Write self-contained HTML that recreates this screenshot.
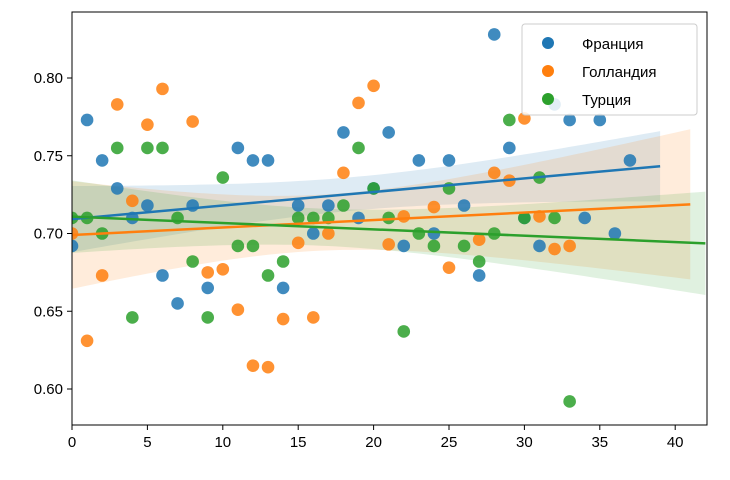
<!DOCTYPE html>
<html><head><meta charset="utf-8"><style>
body{margin:0;background:#fff;width:730px;height:475px;overflow:hidden}
svg text{font-family:"Liberation Sans","DejaVu Sans",sans-serif;font-size:15px;fill:#000}
</style></head><body>
<svg id="chart" width="730" height="475"></svg>
<script>
const seriesNames=["Франция","Голландия","Турция"];
const colors=["#1f77b4","#ff7f0e","#2ca02c"];
const franceX=[0,1,2,3,4,5,6,7,8,9,11,12,13,14,15,16,17,18,19,20,21,22,23,24,25,26,27,28,29,30,31,32,33,34,35,36,37];
const franceY=[0.692,0.773,0.747,0.729,0.71,0.718,0.673,0.655,0.718,0.665,0.755,0.747,0.747,0.665,0.718,0.70,0.718,0.765,0.71,0.729,0.765,0.692,0.747,0.70,0.747,0.718,0.673,0.828,0.755,0.71,0.692,0.783,0.773,0.71,0.773,0.70,0.747];
const hollandX=[0,1,2,3,4,5,6,8,9,10,11,12,13,14,15,16,17,18,19,20,21,22,24,25,27,28,29,30,31,32,33];
const hollandY=[0.70,0.631,0.673,0.783,0.721,0.77,0.793,0.772,0.675,0.677,0.651,0.615,0.614,0.645,0.694,0.646,0.70,0.739,0.784,0.795,0.693,0.711,0.717,0.678,0.696,0.739,0.734,0.774,0.711,0.69,0.692];
const turkeyX=[0,1,2,3,4,5,6,7,8,9,10,11,12,13,14,15,16,17,18,19,20,21,22,23,24,25,26,27,28,29,30,31,32,33];
const turkeyY=[0.71,0.71,0.70,0.755,0.646,0.755,0.755,0.71,0.682,0.646,0.736,0.692,0.692,0.673,0.682,0.71,0.71,0.71,0.718,0.755,0.729,0.71,0.637,0.70,0.692,0.729,0.692,0.682,0.70,0.773,0.71,0.736,0.71,0.592];
const lineEnds=[39,41,42];
const xTicks=[0,5,10,15,20,25,30,35,40];
const yTicks=[0.60,0.65,0.70,0.75,0.80];
const L=72,R=707,T=12,B=425;
const sx=v=>L+v*15.08, sy=v=>78+(0.80-v)*1555;
const NS="http://www.w3.org/2000/svg", svg=document.getElementById('chart');
function mk(t,a,p){const e=document.createElementNS(NS,t);for(const k in a)e.setAttribute(k,a[k]);(p||svg).appendChild(e);return e;}
const clip=mk('clipPath',{id:'pc'});mk('rect',{x:L,y:T,width:R-L,height:B-T},clip);
const plot=mk('g',{'clip-path':'url(#pc)'});
const data=[[franceX,franceY],[hollandX,hollandY],[turkeyX,turkeyY]];
const bandK=[1.75,1.9,1.85];
data.forEach(([xs,ys],i)=>{
 const n=xs.length,mx=xs.reduce((a,b)=>a+b)/n,my=ys.reduce((a,b)=>a+b)/n;
 let sxx=0,sxy=0;xs.forEach((x,j)=>{sxx+=(x-mx)**2;sxy+=(x-mx)*(ys[j]-my)});
 const b=sxy/sxx,a=my-b*mx;let sse=0;xs.forEach((x,j)=>{sse+=(ys[j]-a-b*x)**2});
 const s=Math.sqrt(sse/(n-2));
 const up=[],lo=[];
 for(let x=0;x<=lineEnds[i];x+=0.5){const se=bandK[i]*s*Math.sqrt(1/n+(x-mx)**2/sxx);const y=a+b*x;up.push(sx(x)+','+sy(y+se));lo.unshift(sx(x)+','+sy(y-se));}
 const band=mk('polygon',{points:up.concat(lo).join(' '),fill:colors[i],'fill-opacity':0.15},plot);
 
 
 data[i].fit=[a,b];
});
data.forEach(([xs,ys],i)=>{
 xs.forEach((x,j)=>{const c=mk('circle',{cx:sx(x),cy:sy(ys[j]),r:6.3,fill:colors[i],'fill-opacity':0.85},plot);
 
 });
});
data.forEach((d,i)=>{const [a,b]=d.fit;const l=mk('line',{x1:sx(0),y1:sy(a),x2:sx(lineEnds[i]),y2:sy(a+b*lineEnds[i]),stroke:colors[i],'stroke-width':2.5},plot);
 
 });
mk('rect',{x:L,y:T,width:R-L,height:B-T,fill:'none',stroke:'#000','stroke-width':1});
xTicks.forEach(t=>{mk('line',{x1:sx(t),x2:sx(t),y1:B,y2:B+5,stroke:'#000'});const e=mk('text',{x:sx(t),y:B+22,'text-anchor':'middle'});e.textContent=t;
 
 });
yTicks.forEach(t=>{mk('line',{x1:L-5,x2:L,y1:sy(t),y2:sy(t),stroke:'#000'});const e=mk('text',{x:L-9,y:sy(t)+5,'text-anchor':'end'});e.textContent=t.toFixed(2);
 
 });
const lg=mk('g',{});


mk('rect',{x:522,y:24,width:175,height:91,rx:3,fill:'#fff','fill-opacity':0.85,stroke:'#ccc'},lg);
seriesNames.forEach((n,i)=>{const y=43+i*28;mk('circle',{cx:548,cy:y,r:6,fill:colors[i]},lg);const t=mk('text',{x:582,y:y+6},lg);t.textContent=n;
 
 });
</script>
</body></html>
